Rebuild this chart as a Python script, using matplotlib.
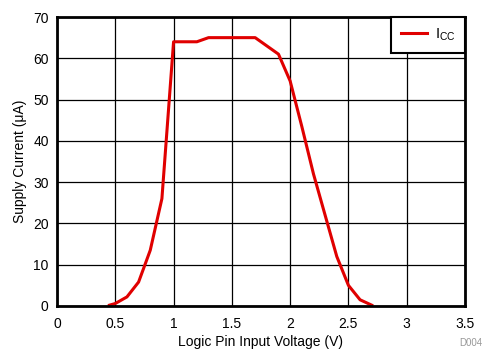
import matplotlib.pyplot as plt

voltage = [0.45, 0.5, 0.6, 0.7, 0.8, 0.9, 1.0, 1.1, 1.2, 1.3, 1.4, 1.5,
           1.6, 1.7, 1.8, 1.9, 2.0, 2.1, 2.2, 2.3, 2.4, 2.5, 2.6, 2.7]
icc = [0.2, 0.6, 2.2, 5.8, 13.5, 26, 64, 64, 64, 65, 65, 65,
       65, 65, 63, 61, 54.5, 43.5, 32, 22, 12, 5, 1.5, 0.2]

xticks = [0, 0.5, 1, 1.5, 2, 2.5, 3, 3.5]
yticks = [0, 10, 20, 30, 40, 50, 60, 70]

plt.rcParams['font.family'] = ['Liberation Sans', 'DejaVu Sans']

fig = plt.figure(figsize=(4.9, 3.52), dpi=100)
ax = fig.add_axes([0.1163, 0.1307, 0.949 - 0.1163, 0.9517 - 0.1307])

ax.plot(voltage, icc, color='#e00000', lw=2.2, label='I$_{\\mathregular{CC}}$')

ax.set_xlim(0, 3.5)
ax.set_ylim(0, 70)
ax.set_xticks(xticks)
ax.set_yticks(yticks)
ax.set_xticklabels(['0', '0.5', '1', '1.5', '2', '2.5', '3', '3.5'])
ax.tick_params(length=0, labelsize=10)
ax.tick_params(axis='x', pad=8)
ax.tick_params(axis='y', pad=6)
ax.grid(color='black', lw=0.9)
ax.set_axisbelow(True)
for s in ax.spines.values():
    s.set_linewidth(2)
    s.set_color('black')

ax.set_xlabel('Logic Pin Input Voltage (V)', fontsize=10, labelpad=3)
ax.set_ylabel('Supply Current (\u03bcA)', fontsize=10, labelpad=4)

leg = ax.legend(loc='upper right', fontsize=10.5, fancybox=False, framealpha=1,
                edgecolor='black', borderaxespad=0, handlelength=1.8,
                handletextpad=0.55, borderpad=0.65)
leg.get_frame().set_linewidth(1.5)

fig.text(0.985, 0.012, 'D004', color='#999999', fontsize=7, ha='right', va='bottom')

fig.savefig('out.png', dpi=100)
